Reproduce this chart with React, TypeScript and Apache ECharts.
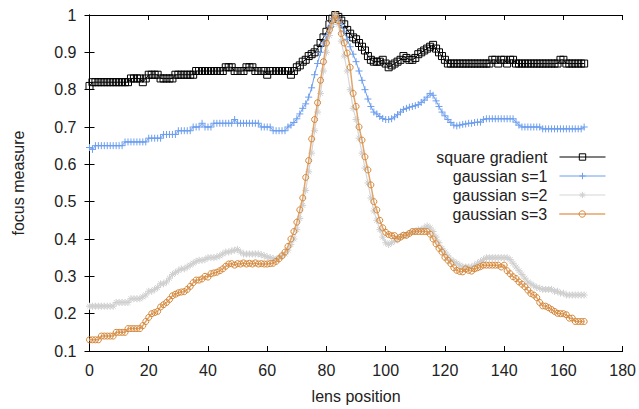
import React, { useEffect, useRef } from "react";
import * as echarts from "echarts";

const squareGradient = [
  0.81,0.82,0.82,0.82,0.82,0.82,0.82,0.82,0.82,0.82,
  0.82,0.82,0.82,0.82,0.83,0.83,0.83,0.83,0.82,0.83,
  0.84,0.84,0.84,0.84,0.83,0.83,0.83,0.83,0.83,0.84,
  0.84,0.84,0.84,0.84,0.84,0.84,0.85,0.85,0.85,0.85,
  0.85,0.85,0.85,0.85,0.85,0.85,0.86,0.86,0.86,0.85,
  0.85,0.85,0.85,0.86,0.86,0.86,0.85,0.85,0.85,0.85,
  0.84,0.85,0.85,0.85,0.85,0.85,0.85,0.85,0.84,0.85,
  0.86,0.865,0.875,0.88,0.89,0.895,0.90,0.91,0.925,0.94,
  0.955,0.975,0.99,1.0,0.995,0.985,0.975,0.96,0.95,0.94,
  0.935,0.925,0.915,0.905,0.89,0.88,0.875,0.875,0.875,0.88,
  0.87,0.86,0.865,0.87,0.875,0.88,0.89,0.885,0.88,0.88,
  0.885,0.895,0.9,0.905,0.91,0.915,0.92,0.91,0.90,0.89,
  0.88,0.87,0.87,0.87,0.87,0.87,0.87,0.87,0.87,0.87,
  0.87,0.87,0.87,0.87,0.87,0.87,0.88,0.88,0.87,0.88,
  0.88,0.87,0.88,0.88,0.87,0.87,0.87,0.87,0.87,0.87,
  0.87,0.87,0.87,0.87,0.87,0.87,0.87,0.87,0.87,0.88,
  0.88,0.87,0.87,0.87,0.87,0.87,0.87,0.87,
];

const gaussian1 = [
  0.645,0.64,0.65,0.65,0.65,0.65,0.65,0.65,0.65,0.65,
  0.65,0.65,0.66,0.66,0.66,0.66,0.66,0.66,0.66,0.66,
  0.67,0.67,0.67,0.67,0.67,0.68,0.68,0.68,0.68,0.68,
  0.69,0.69,0.69,0.69,0.69,0.70,0.70,0.70,0.71,0.70,
  0.70,0.70,0.71,0.71,0.71,0.71,0.71,0.71,0.71,0.72,
  0.71,0.71,0.71,0.71,0.71,0.71,0.71,0.71,0.70,0.70,
  0.70,0.70,0.69,0.69,0.69,0.69,0.69,0.70,0.705,0.712,
  0.722,0.735,0.75,0.762,0.78,0.805,0.84,0.87,0.90,0.925,
  0.945,0.97,0.99,1.0,0.99,0.975,0.955,0.935,0.915,0.895,
  0.875,0.85,0.825,0.80,0.775,0.755,0.74,0.735,0.728,0.723,
  0.72,0.72,0.722,0.727,0.733,0.74,0.747,0.75,0.753,0.755,
  0.757,0.76,0.766,0.772,0.78,0.79,0.785,0.77,0.755,0.74,
  0.73,0.72,0.712,0.705,0.703,0.705,0.707,0.708,0.71,0.71,
  0.712,0.713,0.713,0.72,0.722,0.722,0.722,0.722,0.722,0.722,
  0.722,0.722,0.722,0.722,0.713,0.705,0.70,0.70,0.70,0.70,
  0.70,0.70,0.70,0.695,0.695,0.695,0.695,0.695,0.695,0.695,
  0.695,0.695,0.695,0.695,0.695,0.695,0.695,0.70,
];

const gaussian2 = [
  0.22,0.22,0.22,0.22,0.22,0.22,0.22,0.22,0.22,0.23,
  0.23,0.23,0.23,0.23,0.24,0.24,0.24,0.24,0.245,0.25,
  0.26,0.26,0.265,0.27,0.28,0.28,0.285,0.295,0.305,0.31,
  0.315,0.32,0.32,0.325,0.33,0.335,0.34,0.343,0.343,0.345,
  0.35,0.35,0.35,0.352,0.355,0.36,0.365,0.365,0.368,0.37,
  0.372,0.365,0.36,0.36,0.36,0.36,0.36,0.36,0.358,0.355,
  0.352,0.35,0.348,0.345,0.35,0.355,0.36,0.37,0.385,0.40,
  0.425,0.455,0.49,0.53,0.58,0.63,0.69,0.74,0.79,0.85,
  0.90,0.945,0.975,1.0,0.975,0.93,0.89,0.85,0.80,0.75,
  0.72,0.67,0.63,0.59,0.55,0.51,0.475,0.45,0.425,0.405,
  0.39,0.385,0.39,0.395,0.40,0.405,0.41,0.41,0.415,0.42,
  0.42,0.425,0.425,0.43,0.435,0.43,0.42,0.405,0.39,0.375,
  0.365,0.355,0.345,0.34,0.335,0.33,0.325,0.325,0.325,0.325,
  0.33,0.335,0.34,0.345,0.35,0.35,0.35,0.35,0.35,0.35,
  0.35,0.35,0.345,0.335,0.325,0.315,0.305,0.295,0.285,0.28,
  0.275,0.27,0.268,0.265,0.265,0.265,0.265,0.26,0.26,0.255,
  0.255,0.25,0.25,0.25,0.25,0.25,0.25,0.25,
];

const gaussian3 = [
  0.13,0.13,0.13,0.13,0.14,0.14,0.14,0.14,0.14,0.15,
  0.15,0.15,0.15,0.16,0.16,0.16,0.16,0.16,0.168,0.179,
  0.19,0.20,0.203,0.206,0.218,0.224,0.23,0.238,0.248,0.252,
  0.256,0.258,0.259,0.265,0.273,0.283,0.29,0.29,0.293,0.30,
  0.298,0.307,0.309,0.311,0.315,0.32,0.327,0.333,0.334,0.33,
  0.334,0.333,0.336,0.333,0.335,0.333,0.336,0.333,0.334,0.333,
  0.333,0.334,0.335,0.34,0.347,0.355,0.365,0.38,0.40,0.42,
  0.445,0.478,0.51,0.565,0.61,0.668,0.72,0.765,0.825,0.875,
  0.925,0.96,0.985,1.0,0.985,0.95,0.925,0.898,0.86,0.79,
  0.755,0.70,0.665,0.62,0.585,0.545,0.50,0.478,0.45,0.43,
  0.418,0.412,0.409,0.409,0.40,0.405,0.41,0.41,0.415,0.42,
  0.42,0.42,0.42,0.42,0.42,0.413,0.40,0.387,0.375,0.365,
  0.351,0.343,0.334,0.323,0.316,0.313,0.312,0.32,0.316,0.314,
  0.32,0.323,0.326,0.33,0.33,0.33,0.33,0.33,0.33,0.325,
  0.33,0.315,0.307,0.299,0.294,0.285,0.279,0.272,0.263,0.254,
  0.25,0.243,0.23,0.221,0.22,0.216,0.211,0.206,0.201,0.20,
  0.20,0.197,0.188,0.188,0.179,0.179,0.179,0.179,
];

const seriesNames = ["square gradient", "gaussian s=1", "gaussian s=2", "gaussian s=3"];
const xTicks = { min: 0, max: 180, interval: 20 };
const yTicks = { min: 0.1, max: 1, interval: 0.1 };

const FONT = "Liberation Sans";
const FS = 16;

const PLUS = "path://M5,0L5,10M0,5L10,5";
const STAR = "path://M5,0L5,10M0,5L10,5M1.5,1.5L8.5,8.5M8.5,1.5L1.5,8.5";
const SQUARE = "path://M0,0L10,0L10,10L0,10Z";

function toPairs(vals: number[]) {
  return vals.map((v, i) => [i, v]);
}

export default function App() {
  const ref = useRef<HTMLDivElement>(null);
  useEffect(() => {
    if (!ref.current) return;
    const chart = echarts.init(ref.current, undefined, { renderer: "svg" });

    const styles = [
      { line: "#000000", mark: "#000000", symbol: SQUARE, size: 7, width: 1 },
      { line: "#6d9eee", mark: "#6d9eee", symbol: PLUS, size: 7, width: 1 },
      { line: "#d6d6d6", mark: "#cfcfcf", symbol: STAR, size: 7, width: 1.2 },
      { line: "#e3a46a", mark: "#d4883a", symbol: "circle", size: 6, width: 1.5 },
    ];
    const datasets = [squareGradient, gaussian1, gaussian2, gaussian3];

    const series = datasets.map((vals, k) => ({
      type: "line",
      name: seriesNames[k],
      data: toPairs(vals),
      xAxisIndex: 0,
      yAxisIndex: 0,
      symbol: styles[k].symbol,
      symbolSize: styles[k].size,
      showSymbol: true,
      showAllSymbol: true,
      lineStyle: { color: styles[k].line, width: styles[k].width },
      itemStyle: {
        color: "rgba(0,0,0,0)",
        borderColor: styles[k].mark,
        borderWidth: 1,
      },
      emphasis: { disabled: true },
      z: 2 + k,
    }));

    const rowTops = [149, 168, 187, 206];
    const legends = seriesNames.map((n, k) => ({
      data: [
        {
          name: n,
          itemStyle: {
            color: "rgba(0,0,0,0)",
            borderColor: styles[k].mark,
            borderWidth: 1,
          },
          lineStyle: { color: styles[k].line, width: styles[k].width },
        },
      ],
      orient: "vertical",
      align: "right",
      right: 33,
      top: rowTops[k],
      padding: 0,
      itemWidth: 46,
      itemHeight: 8,
      selectedMode: false,
      textStyle: {
        fontFamily: FONT,
        fontSize: FS,
        color: "#222",
        padding: [0, 7, 0, 0],
      },
    }));

    const axisLine = { show: true, lineStyle: { color: "#000", width: 1 } };
    const tick = { show: true, inside: true, length: 5, lineStyle: { color: "#000" } };

    chart.setOption({
      animation: false,
      backgroundColor: "#ffffff",
      grid: { left: 89.5, right: 14, top: 15, bottom: 54, containLabel: false },
      legend: legends,
      xAxis: [
        {
          type: "value",
          position: "bottom",
          ...xTicks,
          name: "lens position",
          nameLocation: "middle",
          nameGap: 37,
          nameTextStyle: { fontFamily: FONT, fontSize: FS, color: "#222" },
          axisLine,
          axisTick: tick,
          splitLine: { show: false },
          axisLabel: { fontFamily: FONT, fontSize: FS, color: "#222", margin: 11 },
        },
        {
          type: "value",
          position: "top",
          ...xTicks,
          axisLine,
          axisTick: tick,
          splitLine: { show: false },
          axisLabel: { show: false },
        },
      ],
      yAxis: [
        {
          type: "value",
          position: "left",
          ...yTicks,
          name: "focus measure",
          nameLocation: "middle",
          nameGap: 63,
          nameTextStyle: { fontFamily: FONT, fontSize: FS, color: "#222" },
          axisLine,
          axisTick: tick,
          splitLine: { show: false },
          axisLabel: {
            fontFamily: FONT,
            fontSize: FS,
            color: "#222",
            margin: 13,
            formatter: (v: number) => String(Math.round(v * 10) / 10),
          },
        },
        {
          type: "value",
          position: "right",
          ...yTicks,
          axisLine,
          axisTick: tick,
          splitLine: { show: false },
          axisLabel: { show: false },
        },
      ],
      series,
    });

    return () => chart.dispose();
  }, []);

  return <div ref={ref} style={{ width: 639, height: 409, position: "absolute", left: 0, top: 0 }} />;
}
